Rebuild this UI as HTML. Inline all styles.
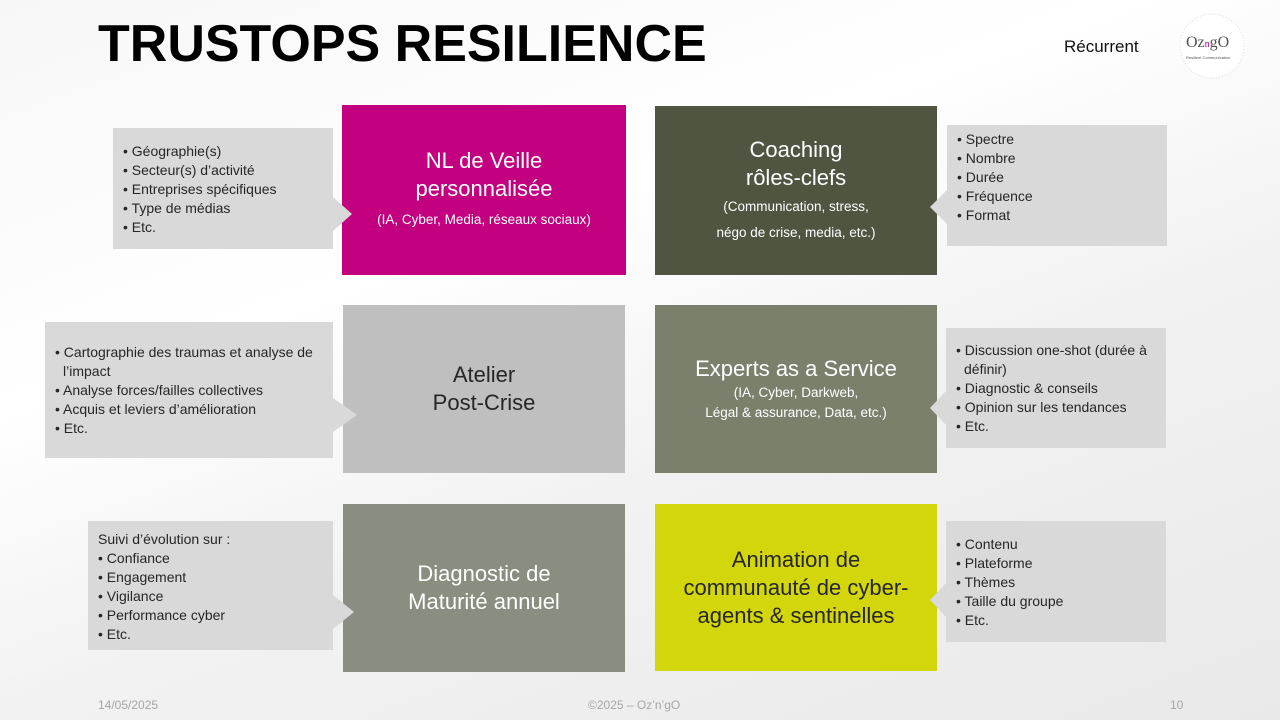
<!DOCTYPE html>
<html><head><meta charset="utf-8"><style>
*{margin:0;padding:0;box-sizing:border-box}
body{width:1280px;height:720px;overflow:hidden;position:relative;font-family:"Liberation Sans",sans-serif;background:linear-gradient(160deg,#f7f7f7 0%,#ffffff 35%,#f2f2f2 60%,#e9e9e9 100%)}
.a{position:absolute}
.box{position:absolute;display:flex;flex-direction:column;align-items:center;justify-content:center;text-align:center;color:#fff}
.box .t{font-size:22px;line-height:28px}
.box .s{font-size:13.5px;line-height:26px}
.co{position:absolute;font-size:14px;line-height:19px;color:#262626;padding-left:10px}
.co div{text-indent:-8px;padding-left:8px}
</style></head><body>
<div class="a" style="left:98px;top:14px;font-size:52px;font-weight:bold;color:#000;letter-spacing:0px">TRUSTOPS RESILIENCE</div>
<div class="a" style="left:1064px;top:37px;font-size:17px;color:#111">Récurrent</div>

<div class="box" style="left:342px;top:105px;width:284px;height:170px;background:#c3007f"><div class="t">NL de Veille<br>personnalisée</div><div class="s" style="margin-top:4px">(IA, Cyber, Media, réseaux sociaux)</div></div>
<div class="box" style="left:655px;top:106px;width:282px;height:169px;background:#4f5541"><div class="t">Coaching<br>rôles-clefs</div><div class="s" style="margin-top:2px">(Communication, stress,<br>négo de crise, media, etc.)</div></div>
<div class="box" style="left:343px;top:305px;width:282px;height:168px;background:#bfbfbf;color:#262626"><div class="t">Atelier<br>Post-Crise</div></div>
<div class="box" style="left:655px;top:305px;width:282px;height:168px;background:#7b806c"><div class="t">Experts as a Service</div><div class="s" style="line-height:20px">(IA, Cyber, Darkweb,<br>Légal &amp; assurance, Data, etc.)</div></div>
<div class="box" style="left:343px;top:504px;width:282px;height:168px;background:#8a8e80"><div class="t">Diagnostic de<br>Maturité annuel</div></div>
<div class="box" style="left:655px;top:504px;width:282px;height:167px;background:#d4d60c;color:#262626"><div class="t">Animation de<br>communauté de cyber-<br>agents &amp; sentinelles</div></div>

<svg class="a" style="left:0;top:0" width="1280" height="720">
<g fill="#d9d9d9">
<path d="M113,128H333V197L352,214L333,231V249H113Z"/>
<path d="M947,125H1167V246H947V224L930,207L947,190Z"/>
<path d="M45,322H333V398L357,415L333,432V458H45Z"/>
<path d="M946,328H1166V448H946V425L930,408L946,391Z"/>
<path d="M88,521H333V595L354,612L333,629V650H88Z"/>
<path d="M946,521H1166V642H946V617L930,600L946,583Z"/>
</g>
<circle cx="1212" cy="46" r="32" fill="#fff" stroke="#ddd" stroke-dasharray="1 2"/>
</svg>
<div class="a" style="left:1186px;top:34px;font-size:16px;color:#555;font-family:'Liberation Serif',serif">Oz<span style="color:#c3007f;font-size:10px">n</span>gO</div>
<div class="a" style="left:1186px;top:55px;font-size:4px;color:#555">Resilient Communication</div>

<div class="co" style="left:113px;top:142px;width:220px"><div>• Géographie(s)</div><div>• Secteur(s) d’activité</div><div>• Entreprises spécifiques</div><div>• Type de médias</div><div>• Etc.</div></div>
<div class="co" style="left:947px;top:130px;width:220px"><div>• Spectre</div><div>• Nombre</div><div>• Durée</div><div>• Fréquence</div><div>• Format</div></div>
<div class="co" style="left:45px;top:343px;width:288px"><div>• Cartographie des traumas et analyse de l’impact</div><div>• Analyse forces/failles collectives</div><div>• Acquis et leviers d’amélioration</div><div>• Etc.</div></div>
<div class="co" style="left:946px;top:341px;width:220px"><div>• Discussion one-shot (durée à définir)</div><div>• Diagnostic &amp; conseils</div><div>• Opinion sur les tendances</div><div>• Etc.</div></div>
<div class="co" style="left:88px;top:530px;width:245px"><div style="text-indent:0;padding-left:0">Suivi d’évolution sur :</div><div>• Confiance</div><div>• Engagement</div><div>• Vigilance</div><div>• Performance cyber</div><div>• Etc.</div></div>
<div class="co" style="left:946px;top:535px;width:220px"><div>• Contenu</div><div>• Plateforme</div><div>• Thèmes</div><div>• Taille du groupe</div><div>• Etc.</div></div>

<div class="a" style="left:98px;top:698px;font-size:12px;color:#a6a6a6">14/05/2025</div>
<div class="a" style="left:588px;top:698px;font-size:12px;color:#a6a6a6">©2025 – Oz’n’gO</div>
<div class="a" style="left:1170px;top:698px;font-size:12px;color:#a6a6a6">10</div>
</body></html>
